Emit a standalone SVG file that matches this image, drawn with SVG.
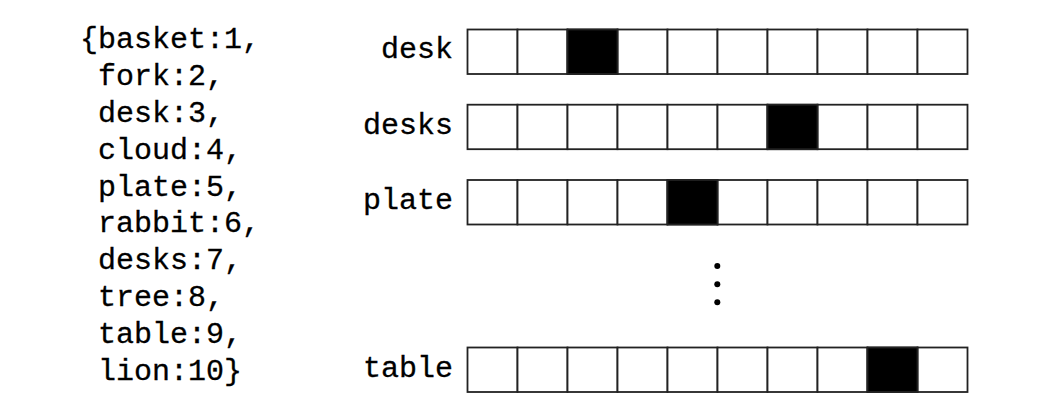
<svg xmlns="http://www.w3.org/2000/svg" width="1058" height="418" viewBox="0 0 1058 418">
<style>
.t{font-family:"Liberation Mono","Courier New",monospace;font-size:30px;fill:#000;stroke:#000;stroke-width:0.3px}
.lbl{text-anchor:end}
.c{fill:#fff;stroke:#222;stroke-width:1.8}
.f{fill:#000;stroke:#222;stroke-width:1.8}
</style>
<rect width="1058" height="418" fill="#fff"/>
<g id="dict">
<text class="t" x="80" y="48.3">{basket:1,</text>
<text class="t" x="98" y="85.1">fork:2,</text>
<text class="t" x="98" y="121.9">desk:3,</text>
<text class="t" x="98" y="158.7">cloud:4,</text>
<text class="t" x="98" y="195.5">plate:5,</text>
<text class="t" x="98" y="232.3">rabbit:6,</text>
<text class="t" x="98" y="269.1">desks:7,</text>
<text class="t" x="98" y="305.9">tree:8,</text>
<text class="t" x="98" y="342.7">table:9,</text>
<text class="t" x="98" y="379.5">lion:10}</text>
</g>
<defs>
<g id="row">
<rect class="c" x="467.5" y="0" width="50" height="44.5"/>
<rect class="c" x="517.5" y="0" width="50" height="44.5"/>
<rect class="c" x="567.5" y="0" width="50" height="44.5"/>
<rect class="c" x="617.5" y="0" width="50" height="44.5"/>
<rect class="c" x="667.5" y="0" width="50" height="44.5"/>
<rect class="c" x="717.5" y="0" width="50" height="44.5"/>
<rect class="c" x="767.5" y="0" width="50" height="44.5"/>
<rect class="c" x="817.5" y="0" width="50" height="44.5"/>
<rect class="c" x="867.5" y="0" width="50" height="44.5"/>
<rect class="c" x="917.5" y="0" width="50" height="44.5"/>
</g>
</defs>
<g id="row-desk">
<text class="t lbl" x="453" y="58.3">desk</text>
<use href="#row" y="29.5"/>
<rect class="f" x="567.5" y="29.5" width="50" height="44.5"/>
</g>
<g id="row-desks">
<text class="t lbl" x="453" y="133.5">desks</text>
<use href="#row" y="104.7"/>
<rect class="f" x="767.5" y="104.7" width="50" height="44.5"/>
</g>
<g id="row-plate">
<text class="t lbl" x="453" y="209.3">plate</text>
<use href="#row" y="180"/>
<rect class="f" x="667.5" y="180" width="50" height="44.5"/>
</g>
<g id="ellipsis">
<circle cx="717.3" cy="266" r="3"/>
<circle cx="717.3" cy="284.2" r="3"/>
<circle cx="717.3" cy="302.3" r="3"/>
</g>
<g id="row-table">
<text class="t lbl" x="453" y="376.7">table</text>
<use href="#row" y="347.5"/>
<rect class="f" x="867.5" y="347.5" width="50" height="44.5"/>
</g>
<g id="connectors"/>
</svg>
